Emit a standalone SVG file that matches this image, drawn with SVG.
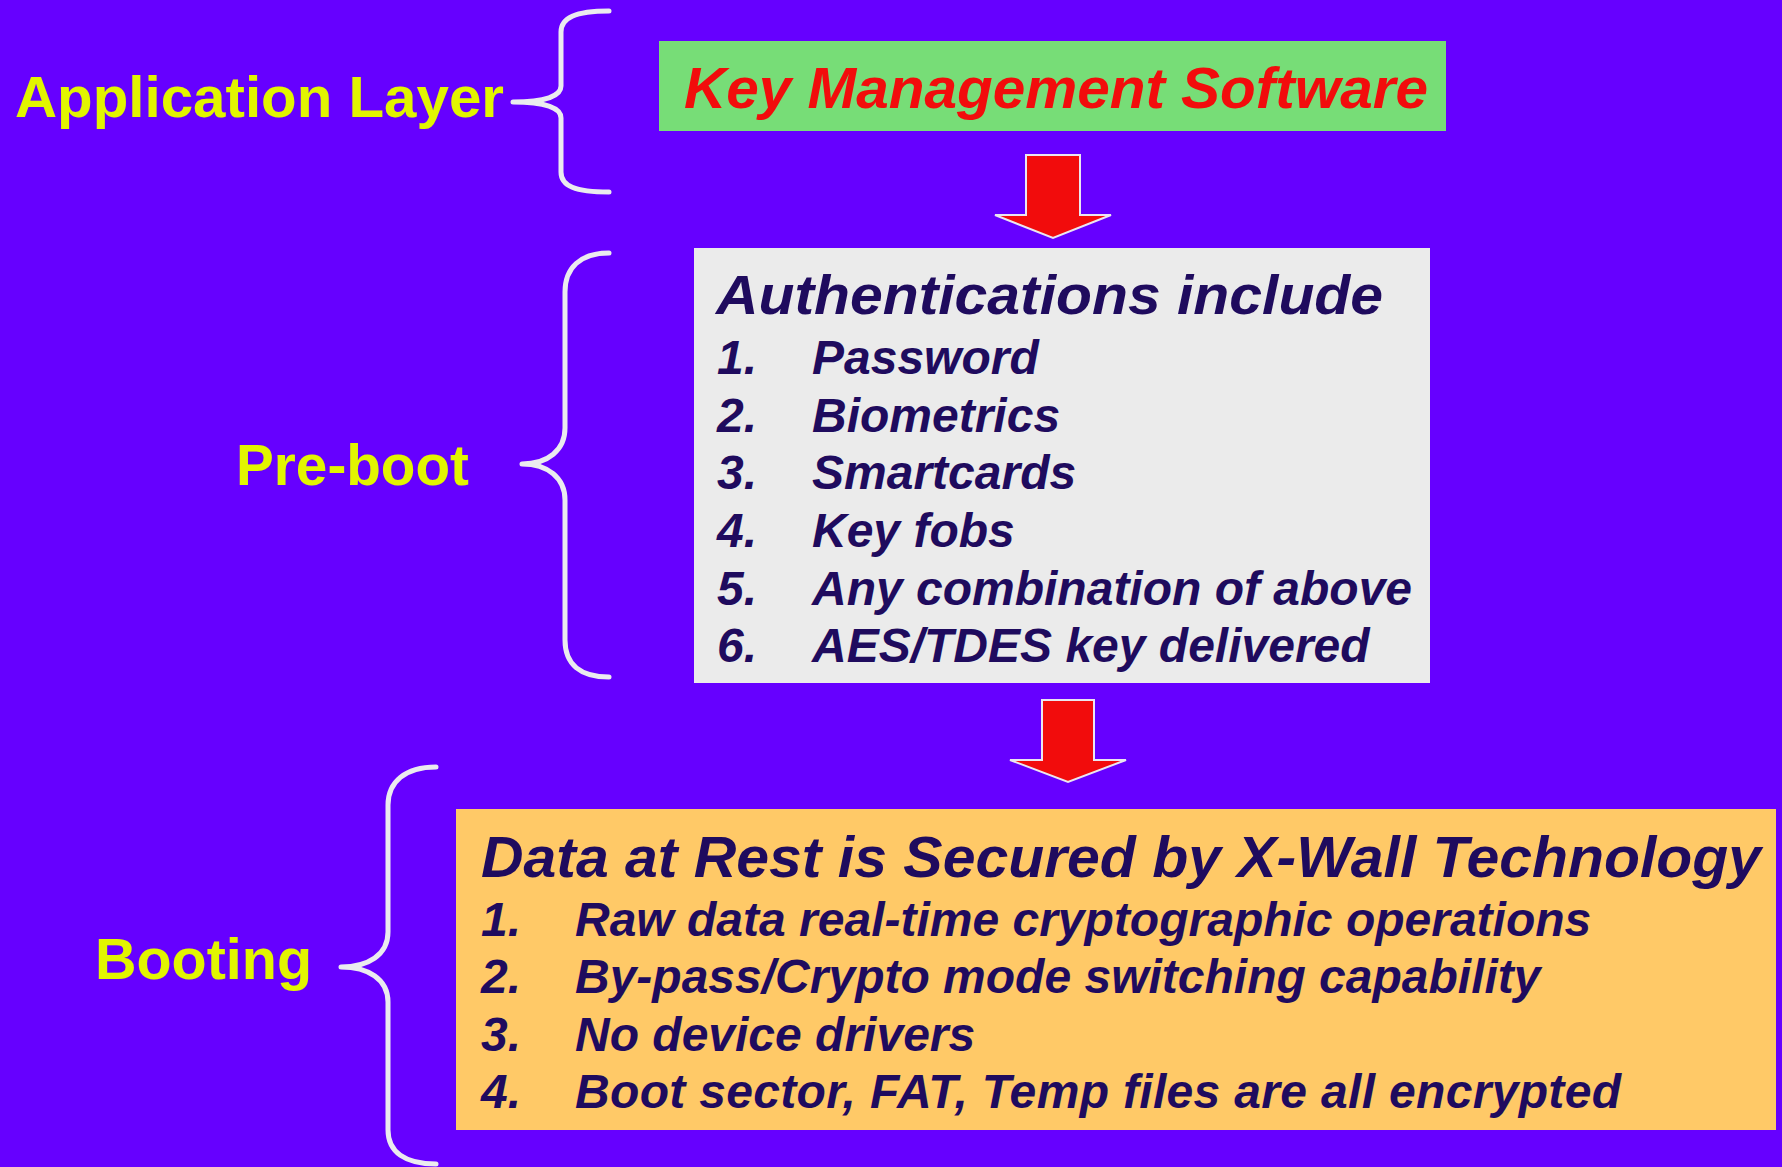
<svg xmlns="http://www.w3.org/2000/svg" width="1782" height="1167" viewBox="0 0 1782 1167">
<style>
.label{font-family:"Liberation Sans",Arial,sans-serif;font-weight:bold;fill:#e2f500;}
.bt{font-family:"Liberation Sans",Arial,sans-serif;font-weight:bold;font-style:italic;fill:#1f0b5e;}
.item{font-size:48px;}
.brace{fill:none;stroke:#ebebef;stroke-width:5;stroke-linecap:round;stroke-linejoin:round;}
.arrow{fill:#f20c0c;stroke:#ebe6f0;stroke-width:2;}
</style>
<rect width="1782" height="1167" fill="#6600ff"/>

<g id="label-application-layer">
<text class="label" x="15" y="117" font-size="58" textLength="489" lengthAdjust="spacingAndGlyphs">Application Layer</text>
</g>
<g id="label-pre-boot">
<text class="label" x="236" y="485" font-size="57" textLength="233" lengthAdjust="spacingAndGlyphs">Pre-boot</text>
</g>
<g id="label-booting">
<text class="label" x="95" y="979" font-size="58" textLength="217" lengthAdjust="spacingAndGlyphs">Booting</text>
</g>

<g id="node-key-management">
<rect x="659" y="41" width="787" height="90" fill="#77dd77"/>
<text x="684" y="108" font-family="Liberation Sans,Arial,sans-serif" font-weight="bold" font-style="italic" font-size="58" fill="#f20c0c" textLength="744" lengthAdjust="spacingAndGlyphs">Key Management Software</text>
</g>

<g id="node-authentications">
<rect x="694" y="248" width="736" height="435" fill="#ebebeb"/>
<text class="bt" x="716" y="314" font-size="56" textLength="667" lengthAdjust="spacingAndGlyphs">Authentications include</text>
<text class="bt item" x="717" y="374">1.</text><text class="bt item" x="812" y="374">Password</text>
<text class="bt item" x="717" y="432">2.</text><text class="bt item" x="812" y="432">Biometrics</text>
<text class="bt item" x="717" y="489">3.</text><text class="bt item" x="812" y="489">Smartcards</text>
<text class="bt item" x="717" y="547">4.</text><text class="bt item" x="812" y="547">Key fobs</text>
<text class="bt item" x="717" y="605">5.</text><text class="bt item" x="812" y="605">Any combination of above</text>
<text class="bt item" x="717" y="662">6.</text><text class="bt item" x="812" y="662">AES/TDES key delivered</text>
</g>

<g id="node-data-at-rest">
<rect x="456" y="809" width="1320" height="321" fill="#ffc967"/>
<text class="bt" x="481" y="877" font-size="58" textLength="1280" lengthAdjust="spacingAndGlyphs">Data at Rest is Secured by X-Wall Technology</text>
<text class="bt item" x="481" y="936">1.</text><text class="bt item" x="575" y="936">Raw data real-time cryptographic operations</text>
<text class="bt item" x="481" y="993">2.</text><text class="bt item" x="575" y="993">By-pass/Crypto mode switching capability</text>
<text class="bt item" x="481" y="1051">3.</text><text class="bt item" x="575" y="1051">No device drivers</text>
<text class="bt item" x="481" y="1108">4.</text><text class="bt item" x="575" y="1108" textLength="1046" lengthAdjust="spacing">Boot sector, FAT, Temp files are all encrypted</text>
</g>

<g id="connectors">
<path class="brace" d="M609,11 C575,11 561,18 561,32 L561,86 C561,96 545,102 513,102 C545,102 561,108 561,118 L561,172 C561,186 575,192 609,192"/>
<path class="brace" d="M609,253 C580,253 565,268 565,292 L565,428 C565,450 548,464 522,464 C548,464 565,478 565,500 L565,640 C565,664 580,677 609,677"/>
<path class="brace" d="M436,767 C405,767 388,782 388,805 L388,932 C388,955 368,967 341,967 C368,967 388,979 388,1002 L388,1130 C388,1152 405,1164 436,1164"/>
<polygon class="arrow" points="1026,155 1080,155 1080,215 1111,215 1053,238 995,215 1026,215"/>
<polygon class="arrow" points="1042,700 1094,700 1094,760 1126,760 1068,782 1010,760 1042,760"/>
</g>
</svg>
